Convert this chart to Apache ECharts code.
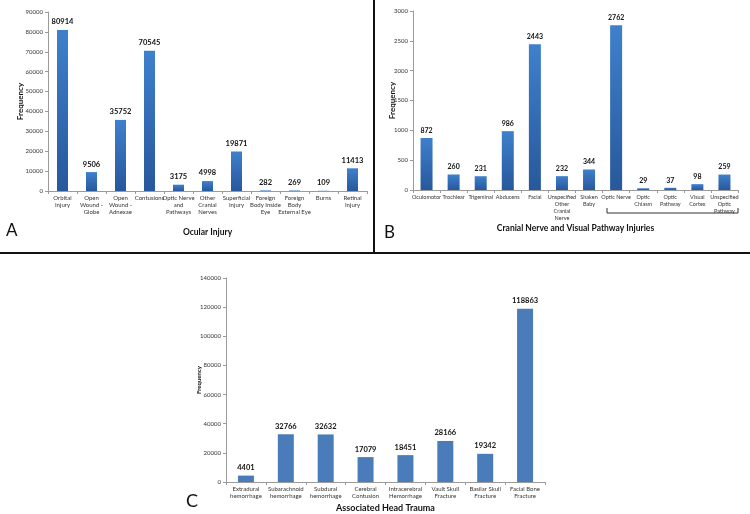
<!DOCTYPE html>
<html>
<head>
<meta charset="utf-8">
<script src="https://cdn.jsdelivr.net/npm/echarts@6/dist/echarts.min.js"></script>
<style>html,body{margin:0;padding:0;background:#fff;}#c{width:750px;height:514px;}</style>
</head>
<body>
<div id="c"></div>
<script>
// Panel A: Ocular Injury
const catsA = ["Orbital\nInjury", "Open\nWound -\nGlobe", "Open\nWound -\nAdnexae", "Contusions", "Optic Nerve\nand\nPathways", "Other\nCranial\nNerves", "Superficial\nInjury", "Foreign\nBody Inside\nEye", "Foreign\nBody\nExternal Eye", "Burns", "Retinal\nInjury"];
const valsA = [80914, 9506, 35752, 70545, 3175, 4998, 19871, 282, 269, 109, 11413];
// Panel B: Cranial Nerve and Visual Pathway Injuries
const catsB = ["Oculomotor", "Trochlear", "Trigeminal", "Abducens", "Facial", "Unspecified\nOther\nCranial\nNerve", "Shaken\nBaby", "Optic Nerve", "Optic\nChiasm", "Optic\nPathway", "Visual\nCortex", "Unspecified\nOptic\nPathway"];
const valsB = [872, 260, 231, 986, 2443, 232, 344, 2762, 29, 37, 98, 259];
// Panel C: Associated Head Trauma
const catsC = ["Extradural\nhemorrhage", "Subarachnoid\nhemorrhage", "Subdural\nhemorrhage", "Cerebral\nContusion", "Intracerebral\nHemorrhage", "Vault Skull\nFracture", "Basilar Skull\nFracture", "Facial Bone\nFracture"];
const valsC = [4401, 32766, 32632, 17079, 18451, 28166, 19342, 118863];

const FONT = 'Lato, "Open Sans", sans-serif';
const chart = echarts.init(document.getElementById('c'));
const grad = new echarts.graphic.LinearGradient(0, 0, 0, 1, [
  {offset: 0, color: '#3f80cc'}, {offset: 1, color: '#27589c'}
]);
function xAx(idx, cats, name, gap, nameSize, lblSize) {
  return {
    type: 'category', gridIndex: idx, data: cats,
    name: name, nameLocation: 'middle', nameGap: gap, nameMoveOverlap: false,
    nameTextStyle: {fontFamily: FONT, fontWeight: 'bold', fontSize: nameSize, color: '#111'},
    axisLine: {lineStyle: {color: '#9a9a9a', width: 1}},
    axisTick: {show: true, length: 3, lineStyle: {color: '#9a9a9a'}},
    axisLabel: {interval: 0, fontFamily: FONT, fontSize: lblSize, color: '#333', lineHeight: 7, margin: 4}
  };
}
function yAx(idx, max, interval, gap, nameSize) {
  return {
    type: 'value', gridIndex: idx, min: 0, max: max, interval: interval,
    name: 'Frequency', nameLocation: 'middle', nameGap: gap, nameMoveOverlap: false,
    nameTextStyle: {fontFamily: FONT, fontWeight: 'bold', fontSize: nameSize, color: '#111'},
    axisLine: {show: true, lineStyle: {color: '#9a9a9a', width: 1}},
    axisTick: {show: true, length: 3, lineStyle: {color: '#9a9a9a'}},
    splitLine: {show: false},
    axisLabel: {fontFamily: FONT, fontSize: 6, color: '#333', margin: 5, formatter: v => String(v)}
  };
}
function bar(idx, vals, color, width, lsize) {
  return {
    type: 'bar', xAxisIndex: idx, yAxisIndex: idx, data: vals, barWidth: width,
    itemStyle: {color: color},
    label: {show: true, position: 'top', distance: 4, fontFamily: FONT, fontWeight: 'bold', fontSize: lsize, color: '#111'}
  };
}
chart.setOption({
  animation: false,
  grid: [
    {left: 48, top: 12, width: 319, height: 179},
    {left: 413, top: 11, width: 325, height: 179},
    {left: 226, top: 278, width: 319, height: 205}
  ],
  xAxis: [
    xAx(0, catsA, 'Ocular Injury', 37, 8.5, 6),
    xAx(1, catsB, 'Cranial Nerve and Visual Pathway Injuries', 34, 8.5, 5.5),
    xAx(2, catsC, 'Associated Head Trauma', 22, 9, 6)
  ],
  yAxis: [
    yAx(0, 90000, 10000, 24, 8),
    yAx(1, 3000, 500, 17, 8),
    yAx(2, 140000, 20000, 24, 6)
  ],
  series: [
    bar(0, valsA, grad, 11, 7.5),
    bar(1, valsB, grad, 12, 7),
    bar(2, valsC, '#4a7cb9', 16, 7.5)
  ],
  graphic: [
    {type: 'line', shape: {x1: 374, y1: 0, x2: 374, y2: 253}, style: {stroke: '#111', lineWidth: 2}},
    {type: 'line', shape: {x1: 0, y1: 253, x2: 750, y2: 253}, style: {stroke: '#111', lineWidth: 2}},
    {type: 'polyline', shape: {points: [[607, 208], [607, 213], [738, 213], [738, 208]]}, style: {stroke: '#333', lineWidth: 1, fill: null}},
    {type: 'text', x: 6, y: 222, style: {text: 'A', font: '17px ' + FONT, fill: '#111'}},
    {type: 'text', x: 384, y: 224, style: {text: 'B', font: '17px ' + FONT, fill: '#111'}},
    {type: 'text', x: 186, y: 492, style: {text: 'C', font: '18px ' + FONT, fill: '#111'}}
  ]
});
</script>
</body>
</html>
